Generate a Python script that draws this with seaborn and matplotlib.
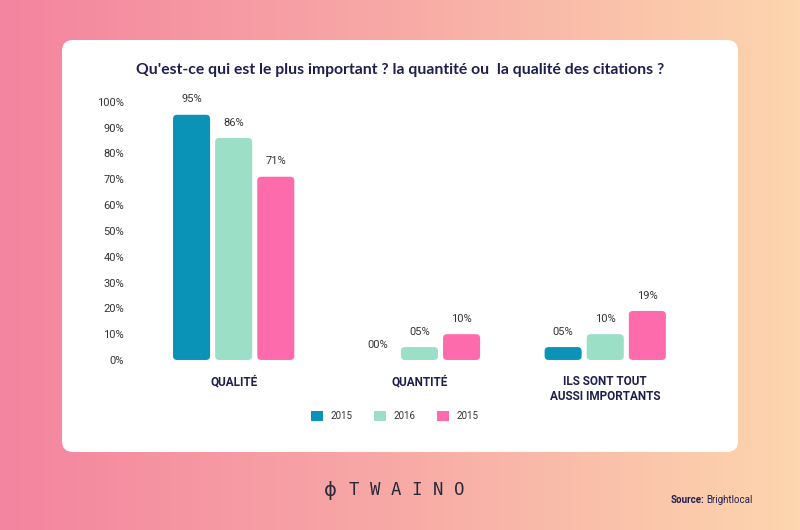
import numpy as np
import pandas as pd
import matplotlib
matplotlib.use("Agg")
import matplotlib.pyplot as plt
from matplotlib.patches import FancyBboxPatch
from matplotlib.colors import LinearSegmentedColormap
import seaborn as sns

# ---------------------------
# Data
# ---------------------------
categories = ["QUALITÉ", "QUANTITÉ", "ILS SONT TOUT\nAUSSI IMPORTANTS"]
series = ["s1", "s2", "s3"]
legend_labels = ["2015", "2016", "2015"]
vals_s1 = [95, 0, 5]
vals_s2 = [86, 5, 10]
vals_s3 = [71, 10, 19]
value_labels = [["95%", "00%", "05%"], ["86%", "05%", "10%"], ["71%", "10%", "19%"]]
yticks = [0, 10, 20, 30, 40, 50, 60, 70, 80, 90, 100]
ytick_labels = ["0%", "10%", "20%", "30%", "40%", "50%", "60%", "70%", "80%", "90%", "100%"]

colors = ["#0a93b6", "#9adfc6", "#fd6bac"]
navy = "#1d1f4f"

rows = []
for s, vals in zip(series, [vals_s1, vals_s2, vals_s3]):
    for c, v in zip(categories, vals):
        rows.append({"cat": c, "series": s, "value": v})
df = pd.DataFrame(rows)

sns.set_theme(style="white")
plt.rcParams["font.family"] = ["Roboto", "DejaVu Sans"]

fig = plt.figure(figsize=(8, 5.3), dpi=100)

# ---------------------------
# Background gradient + card
# ---------------------------
bg = fig.add_axes([0, 0, 1, 1], zorder=0)
cmap = LinearSegmentedColormap.from_list("bg", ["#f4849f", "#f8aaa6", "#fdd6ae"])
bg.imshow(np.linspace(0, 1, 256).reshape(1, -1), cmap=cmap, aspect="auto",
          extent=[0, 800, 0, 530])
bg.set_xlim(0, 800)
bg.set_ylim(530, 0)
bg.axis("off")
card = FancyBboxPatch((62, 40), 676, 412, boxstyle="round,pad=0,rounding_size=11",
                      facecolor="white", edgecolor="none")
bg.add_patch(card)

bg.text(400, 70, "Qu'est-ce qui est le plus important ? la quantité ou  la qualité des citations ?",
        ha="center", va="center", fontsize=11.3, fontweight="bold", color=navy,
        family=["Lato", "DejaVu Sans"])

# footer
bg.text(330, 490, "\u03d5", ha="center", va="center", fontsize=14, color="#2a2a3a",
        family=["DejaVu Sans"])
bg.text(407, 490, "T W A I N O", ha="center", va="center", fontsize=12.5,
        color="#2a2a3a", family=["DejaVu Sans Mono", "DejaVu Sans"])
bg.text(704, 500, "Source:", ha="right", va="center", fontsize=7, fontweight="bold", color=navy)
bg.text(706, 500, "Brightlocal", ha="left", va="center", fontsize=7, color=navy)

# ---------------------------
# Bars
# ---------------------------
ax = fig.add_axes([0.169, 0.3208, 0.706, 0.487], zorder=1)
ax.patch.set_alpha(0)
sns.barplot(data=df, x="cat", y="value", hue="series", hue_order=series,
            palette=colors, saturation=1, order=categories, width=0.68, gap=0.12,
            legend=False, ax=ax)

ax.set_xlim(-0.53, 2.51)
ax.set_ylim(0, 100)

# swap plain rectangles for rounded ones
bars = list(ax.patches)
for i, b in enumerate(bars):
    b.set_visible(False)
    x, w, h = b.get_x(), b.get_width(), b.get_height()
    s_idx = i // len(categories)
    c_idx = i % len(categories)
    if h > 0:
        rb = FancyBboxPatch((x, 0), w, h, boxstyle="round,pad=0,rounding_size=0.022",
                            mutation_aspect=72, facecolor=b.get_facecolor(),
                            edgecolor="none")
        ax.add_patch(rb)
    ax.text(x + w / 2, h + 4, value_labels[s_idx][c_idx], ha="center", va="bottom",
            fontsize=8, color="#333333")

ax.set_yticks(yticks)
ax.set_yticklabels(ytick_labels, fontsize=8, color="#333333")
ax.tick_params(axis="y", length=0, pad=8)
ax.set_xticks(range(len(categories)))
ax.set_xticklabels(categories, fontsize=8.5, fontweight="bold", color=navy,
                   linespacing=1.2)
ax.tick_params(axis="x", length=0, pad=11)
for lab in ax.get_xticklabels():
    lab.set_va("top")
ax.set_xlabel("")
ax.set_ylabel("")
sns.despine(ax=ax, left=True, bottom=True)

# ---------------------------
# Legend
# ---------------------------
handles = [FancyBboxPatch((0, 0), 1, 1, boxstyle="round,pad=0,rounding_size=0.3",
                          facecolor=c, edgecolor="none") for c in colors]
leg = fig.legend(handles, legend_labels, loc="center", bbox_to_anchor=(395 / 800, 1 - 416 / 530),
                 ncol=3, frameon=False, fontsize=7, handlelength=1.2, handleheight=1.2,
                 columnspacing=2.2, handletextpad=0.8)
for t in leg.get_texts():
    t.set_color("#333333")

fig.savefig("out.png", dpi=100)
